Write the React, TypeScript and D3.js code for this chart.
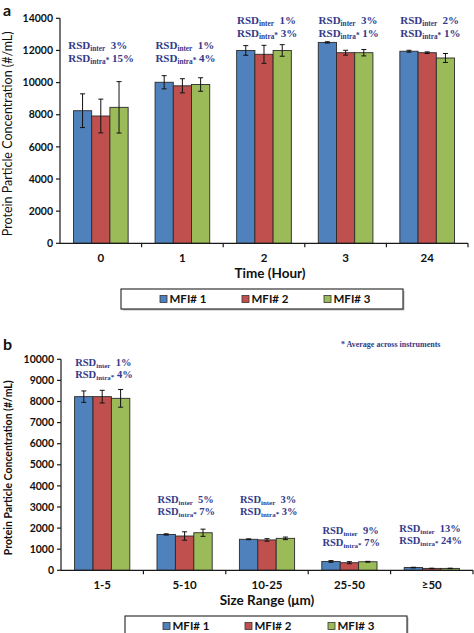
import React from "react";
import * as d3 from "d3";

// ---------- Data ----------
const seriesNames = ["MFI# 1", "MFI# 2", "MFI# 3"];
const seriesColors = ["#4F81BD", "#C0504D", "#9BBB59"];

// Panel a: time course
const timeCats = ["0", "1", "2", "3", "24"];
const timeMFI1 = [8250, 10020, 12000, 12500, 11950];
const timeMFI2 = [7920, 9800, 11760, 11860, 11860];
const timeMFI3 = [8460, 9880, 12000, 11860, 11530];
const timeErr1 = [1050, 410, 300, 40, 60];
const timeErr2 = [1050, 440, 560, 150, 50];
const timeErr3 = [1600, 420, 360, 200, 280];
const timeRsdInter = ["3%", "1%", "1%", "3%", "2%"];
const timeRsdIntra = ["15%", "4%", "3%", "1%", "1%"];
const timeRsdLevel = [12070, 12070, 13630, 13630, 13630];
const timeTicks = [0, 2000, 4000, 6000, 8000, 10000, 12000, 14000];

// Panel b: size ranges
const sizeCats = ["1-5", "5-10", "10-25", "25-50", "≥50"];
const sizeMFI1 = [8230, 1700, 1470, 420, 130];
const sizeMFI2 = [8230, 1625, 1440, 360, 90];
const sizeMFI3 = [8150, 1780, 1515, 405, 90];
const sizeErr1 = [270, 30, 20, 40, 15];
const sizeErr2 = [300, 200, 60, 50, 10];
const sizeErr3 = [420, 170, 60, 20, 10];
const sizeRsdInter = ["1%", "5%", "3%", "9%", "13%"];
const sizeRsdIntra = ["4%", "7%", "3%", "7%", "24%"];
const sizeRsdLevel = [9680, 3175, 3175, 1720, 1800];
const sizeTicks = [0, 1000, 2000, 3000, 4000, 5000, 6000, 7000, 8000, 9000, 10000];

const SANS = "Lato, 'Open Sans', sans-serif";
const SERIF = "'Liberation Serif', 'DejaVu Serif', serif";
const NAVY = "#333a8a";
const AXIS = "#1a1a1a";

type PanelProps = {
  letter: string;
  letterY: number;
  cats: string[];
  values: number[][];
  errs: number[][];
  rsdInter: string[];
  rsdIntra: string[];
  rsdLevel: number[];
  ticks: number[];
  yMax: number;
  yRange: [number, number];
  xRange: [number, number];
  xTitle: string;
  yTitleWeight: number;
  yTitleSize: number;
  yTitleX: number;
  rsdSize: number;
  rsdGap: number;
  legendBox: [number, number, number, number];
  legendMarkers: number[];
  footnote?: string;
};

function Panel(p: PanelProps) {
  const y = d3.scaleLinear().domain([0, p.yMax]).range(p.yRange);
  const x0 = d3.scaleBand<string>().domain(p.cats).range(p.xRange).padding(0);
  const bw = x0.bandwidth();
  const pad = bw * 0.165;
  const x1 = d3
    .scaleBand<string>()
    .domain(seriesNames)
    .range([pad, bw - pad])
    .padding(0);
  const barW = x1.bandwidth();
  const [xa, xb] = p.xRange;
  const y0 = y(0);
  const yTop = y(p.yMax);
  const plotCenter = (xa + xb) / 2;

  return (
    <g>
      {/* panel letter */}
      <text x={3} y={p.letterY} fontFamily={SANS} fontWeight={700} fontSize={16} fill="#111">
        {p.letter}
      </text>

      {/* bars */}
      {p.cats.map((c, ci) => (
        <g key={c} transform={`translate(${x0(c)},0)`}>
          {seriesNames.map((s, si) => {
            const v = p.values[si][ci];
            const e = p.errs[si][ci];
            const bx = x1(s)!;
            const cx = bx + barW / 2;
            return (
              <g key={s}>
                <rect
                  x={bx}
                  y={y(v)}
                  width={barW}
                  height={y0 - y(v)}
                  fill={seriesColors[si]}
                  stroke="#2b2b2b"
                  strokeWidth={0.9}
                />
                <line x1={cx} x2={cx} y1={y(v + e)} y2={y(v - e)} stroke="#111" strokeWidth={1} />
                <line x1={cx - 2.5} x2={cx + 2.5} y1={y(v + e)} y2={y(v + e)} stroke="#111" strokeWidth={1} />
                <line x1={cx - 2.5} x2={cx + 2.5} y1={y(v - e)} y2={y(v - e)} stroke="#111" strokeWidth={1} />
              </g>
            );
          })}
        </g>
      ))}

      {/* RSD annotations */}
      {p.cats.map((c, ci) => {
        const center = x0(c)! + bw / 2;
        const maxLen = Math.max(p.rsdInter[ci].length, p.rsdIntra[ci].length);
        const left = center - 27 - 5.5 * (maxLen - 2);
        const base = y(p.rsdLevel[ci]);
        const sub = p.rsdSize * 0.66;
        return (
          <g key={"rsd" + c} fontFamily={SERIF} fontWeight={700} fill={NAVY}>
            <text x={left} y={base} fontSize={p.rsdSize}>
              RSD
              <tspan fontSize={sub} dy={1.5}>inter</tspan>
              <tspan dy={-1.5}>{"\u00a0\u00a0" + p.rsdInter[ci]}</tspan>
            </text>
            <text x={left} y={base + p.rsdGap} fontSize={p.rsdSize}>
              RSD
              <tspan fontSize={sub} dy={1.5}>intra</tspan>
              <tspan fontSize={sub} dy={-1}>*</tspan>
              <tspan dy={-0.5}>{"\u00a0" + p.rsdIntra[ci]}</tspan>
            </text>
          </g>
        );
      })}

      {p.footnote && (
        <text x={341} y={347} fontFamily={SERIF} fontWeight={700} fontSize={8} fill={NAVY}>
          {p.footnote}
        </text>
      )}

      {/* y axis */}
      <line x1={xa} x2={xa} y1={yTop} y2={y0} stroke={AXIS} strokeWidth={1.2} />
      {p.ticks.map((t) => (
        <g key={"yt" + t}>
          <line x1={xa - 4} x2={xa} y1={y(t)} y2={y(t)} stroke={AXIS} strokeWidth={1.2} />
          <text
            x={xa - 7}
            y={y(t)}
            dy="0.35em"
            textAnchor="end"
            fontFamily={SANS}
            fontWeight={700}
            fontSize={10.5}
            fill="#111"
          >
            {t}
          </text>
        </g>
      ))}

      {/* x axis */}
      <line x1={xa} x2={xb} y1={y0} y2={y0} stroke={AXIS} strokeWidth={1.2} />
      {p.cats.map((c, ci) => (
        <g key={"xt" + c}>
          <line
            x1={x0(c)! + bw}
            x2={x0(c)! + bw}
            y1={y0}
            y2={y0 + 4}
            stroke={AXIS}
            strokeWidth={1.2}
          />
          <text
            x={x0(c)! + bw / 2}
            y={y0 + 15}
            dy="0.35em"
            textAnchor="middle"
            fontFamily={SANS}
            fontWeight={700}
            fontSize={11.5}
            fill="#111"
          >
            {c}
          </text>
        </g>
      ))}
      <text
        x={plotCenter + (p.letter === "a" ? 6 : 0)}
        y={y0 + 30}
        dy="0.35em"
        textAnchor="middle"
        fontFamily={SANS}
        fontWeight={700}
        fontSize={13.5}
        fill="#111"
      >
        {p.xTitle}
      </text>

      {/* y title */}
      <text
        transform={`translate(${p.yTitleX},${(yTop + y0) / 2 + 3}) rotate(-90)`}
        textAnchor="middle"
        dy="0.35em"
        fontFamily={SANS}
        fontWeight={p.yTitleWeight}
        fontSize={p.yTitleSize}
        fill="#111"
      >
        Protein Particle Concentration (#/mL)
      </text>

      {/* legend */}
      <g>
        <rect
          x={p.legendBox[0] + 1.5}
          y={p.legendBox[1] + 1.5}
          width={p.legendBox[2]}
          height={p.legendBox[3]}
          fill="#bbb"
        />
        <rect
          x={p.legendBox[0]}
          y={p.legendBox[1]}
          width={p.legendBox[2]}
          height={p.legendBox[3]}
          fill="#fff"
          stroke="#222"
          strokeWidth={1.1}
        />
        {seriesNames.map((s, si) => {
          const cy = p.legendBox[1] + 10;
          const mx = p.legendMarkers[si];
          return (
            <g key={"lg" + s}>
              <rect x={mx} y={cy - 3.5} width={7} height={7} fill={seriesColors[si]} stroke="#333" strokeWidth={0.8} />
              <text
                x={mx + 9.5}
                y={cy}
                dy="0.35em"
                fontFamily={SANS}
                fontWeight={700}
                fontSize={11.5}
                fill="#111"
              >
                {s}
              </text>
            </g>
          );
        })}
      </g>
    </g>
  );
}

export default function App() {
  return (
    <svg
      width={474}
      height={633}
      viewBox="0 0 474 633"
      style={{ position: "absolute", left: 0, top: 0, background: "#fff", display: "block" }}
    >
      <rect x={0} y={0} width={474} height={633} fill="#fff" />
      <Panel
        letter="a"
        letterY={16}
        cats={timeCats}
        values={[timeMFI1, timeMFI2, timeMFI3]}
        errs={[timeErr1, timeErr2, timeErr3]}
        rsdInter={timeRsdInter}
        rsdIntra={timeRsdIntra}
        rsdLevel={timeRsdLevel}
        ticks={timeTicks}
        yMax={14000}
        yRange={[243.3, 18.3]}
        xRange={[60, 468]}
        xTitle="Time (Hour)"
        yTitleWeight={400}
        yTitleSize={12.5}
        yTitleX={8}
        rsdSize={11}
        rsdGap={13}
        legendBox={[121, 289, 282, 20]}
        legendMarkers={[160, 242, 324]}
      />
      <Panel
        letter="b"
        letterY={350}
        cats={sizeCats}
        values={[sizeMFI1, sizeMFI2, sizeMFI3]}
        errs={[sizeErr1, sizeErr2, sizeErr3]}
        rsdInter={sizeRsdInter}
        rsdIntra={sizeRsdIntra}
        rsdLevel={sizeRsdLevel}
        ticks={sizeTicks}
        yMax={10000}
        yRange={[570.3, 359.3]}
        xRange={[61, 473]}
        xTitle="Size Range (μm)"
        yTitleWeight={700}
        yTitleSize={10.5}
        yTitleX={8}
        rsdSize={10.5}
        rsdGap={12}
        legendBox={[125, 616, 282, 22]}
        legendMarkers={[163, 245, 328]}
        footnote="* Average across instruments"
      />
    </svg>
  );
}
